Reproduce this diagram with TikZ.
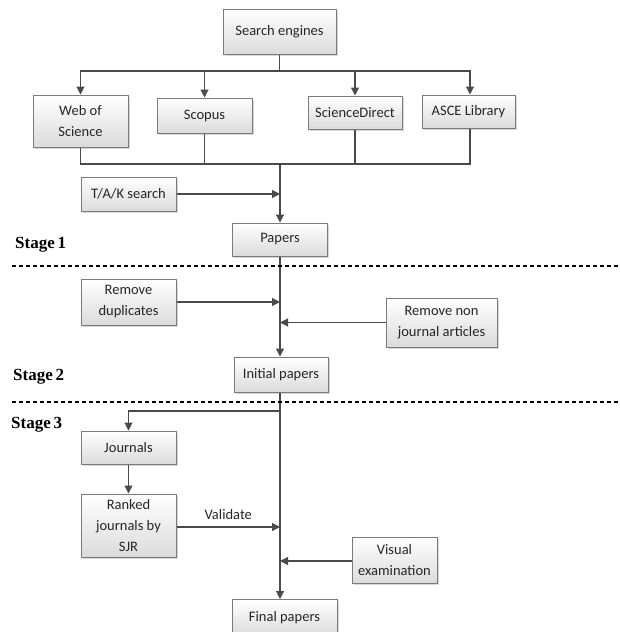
\documentclass[tikz,border=0pt]{standalone}
\usepackage{fontspec}
\setmainfont{Carlito}
\newfontfamily\stagefont{Liberation Serif}
\usetikzlibrary{arrows.meta,shadows,calc}
\definecolor{linec}{HTML}{4A4A4A}
\definecolor{boxline}{HTML}{7A7A7A}
\begin{document}
\begin{tikzpicture}[x=1pt,y=-1pt,
  box/.style={draw=boxline,line width=1pt,top color=white,bottom color=black!14,
    drop shadow={shadow xshift=1.5pt,shadow yshift=-1.5pt,opacity=0.3},
    inner sep=2pt,align=center,
    font=\fontsize{14.5}{21}\selectfont,text=black!85},
  conn/.style={draw=linec,line width=1.15pt},
  arr/.style={conn,-{Triangle[length=8pt,width=8pt]}},
  stagelbl/.style={font=\fontsize{17}{20}\selectfont\stagefont\bfseries,anchor=west,inner sep=0pt},
  sep/.style={draw=black,line width=1.1pt,dash pattern=on 4pt off 3pt}]
\useasboundingbox (0,0) rectangle (620,632);
\clip (0,0) rectangle (620,632);
\fill[white] (0,0) rectangle (620,632);

\node[box,minimum width=113pt,minimum height=45pt] (se) at (279.5,31.5) {Search engines};
\node[box,minimum width=95pt,minimum height=52pt] (wos) at (80.5,121) {Web of\\Science};
\node[box,minimum width=95pt,minimum height=35pt] (sco) at (204.5,115.5) {Scopus};
\node[box,minimum width=94pt,minimum height=33pt] (sd) at (355,112.5) {ScienceDirect};
\node[box,minimum width=93pt,minimum height=33pt] (asce) at (468.5,111.5) {ASCE Library};
\node[box,minimum width=95pt,minimum height=34pt] (tak) at (128.5,194) {T/A/K search};
\node[box,minimum width=95pt,minimum height=33pt] (pap) at (280,239.5) {Papers};
\node[box,minimum width=95pt,minimum height=46pt] (rd) at (128.5,302) {Remove\\duplicates};
\node[box,minimum width=111pt,minimum height=49pt] (rn) at (441.5,322.5) {Remove non\\journal articles};
\node[box,minimum width=94pt,minimum height=35pt] (ini) at (281,374.5) {Initial papers};
\node[box,minimum width=95pt,minimum height=33pt] (jou) at (128.5,447.5) {Journals};
\node[box,minimum width=95pt,minimum height=63pt] (rank) at (128.5,525.5) {Ranked\\journals by\\SJR};
\node[box,minimum width=85pt,minimum height=46pt] (vis) at (394.5,560) {Visual\\examination};
\node[box,minimum width=105pt,minimum height=36pt,anchor=north] (fin) at (284.5,599) {Final papers};

\node[stagelbl] (s1) at (15,245) {Stage\,1};
\node[stagelbl] (s2) at (13,377) {Stage\,2};
\node[stagelbl] (s3) at (11,425) {Stage\,3};

\coordinate (m) at (280,0);
\coordinate (b1) at (279.5,71);
\coordinate (b2) at (280,164);
\coordinate (b3) at (280,411);
\coordinate (d1l) at (12,266);
\coordinate (d1r) at (620,266);
\coordinate (d2l) at (12,402);
\coordinate (d2r) at (620,402);

% top fan-out
\draw[conn] (se.south) -- (b1);
\draw[arr] (b1) -| (wos.north);
\draw[arr] (b1) -| (sco.north);
\draw[arr] (b1) -| (sd.north);
\draw[arr] (b1) -| ($(asce.north)+(1.5,0)$);
% fan-in
\draw[conn] (wos.south) |- (b2);
\draw[conn] (sco.south) |- (b2);
\draw[conn] (sd.south) |- (b2);
\draw[conn] ($(asce.south)+(1.5,0)$) |- (b2);
\draw[arr] (b2) -- (m |- pap.north);
\draw[arr] (tak.east) -- (tak.east -| m);
% stage 2
\draw[arr] (m |- pap.south) -- (m |- ini.north);
\draw[arr] (rd.east) -- (rd.east -| m);
\draw[arr] (rn.west) -- (rn.west -| m);
% stage 3
\draw[arr] (m |- ini.south) -- (m |- fin.north);
\draw[arr] (b3) -| (jou.north);
\draw[arr] (jou.south) -- (rank.north);
\draw[arr] ($(rank.east)+(0,1.5)$) -- ($(rank.east -| m)+(0,1.5)$)
  node[midway,above=3pt,font=\fontsize{14.5}{21}\selectfont,text=black!85] {Validate};
\draw[arr] ($(vis.west)+(0,1)$) -- ($(vis.west -| m)+(0,1)$);

% separators
\draw[sep] (d1l) -- (d1r);
\draw[sep] (d2l) -- (d2r);
\end{tikzpicture}
\end{document}
